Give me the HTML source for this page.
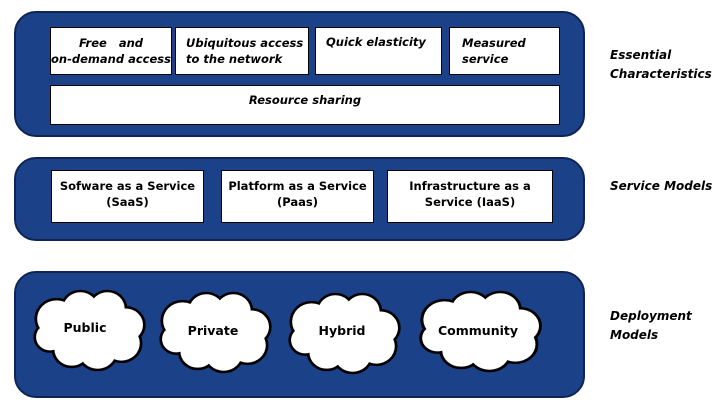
<!DOCTYPE html>
<html><head><style>
body{margin:0;width:722px;height:413px;background:#fff;overflow:hidden;position:relative;font-family:"DejaVu Sans","Liberation Sans",sans-serif}
.band{position:absolute;background:#1b4189;border:2px solid #0f2452;border-radius:22px;box-sizing:border-box}
.box{position:absolute;background:#fff;border:1px solid #000;box-sizing:border-box;font-size:12px;font-weight:bold;line-height:16px}
.i{font-style:italic}
.lab{position:absolute;font-size:12px;font-weight:bold;font-style:italic;line-height:19px;color:#000}
</style></head><body>
<div class="band" style="left:14px;top:11px;width:571px;height:126px"></div>
<div class="band" style="left:14px;top:157px;width:571px;height:84px"></div>
<div class="band" style="left:14px;top:271px;width:571px;height:127px"></div>

<div class="box i" style="left:50px;top:27px;width:122px;height:48px;text-align:center;padding-top:7px;font-size:11.5px">Free &nbsp; and<br>on-demand access</div>
<div class="box i" style="left:175px;top:27px;width:134px;height:48px;padding:7px 0 0 10px;font-size:11.5px">Ubiquitous access<br>to the network</div>
<div class="box i" style="left:315px;top:27px;width:127px;height:48px;padding:6px 0 0 10px;font-size:11.5px">Quick elasticity</div>
<div class="box i" style="left:449px;top:27px;width:111px;height:48px;padding:7px 0 0 12px;font-size:11.5px">Measured<br>service</div>
<div class="box i" style="left:50px;top:85px;width:510px;height:40px;text-align:center;padding-top:6px;font-size:11.5px">Resource sharing</div>

<div class="box" style="left:51px;top:170px;width:153px;height:53px;text-align:center;padding-top:7px;font-size:11.5px">Sofware as a Service<br>(SaaS)</div>
<div class="box" style="left:221px;top:170px;width:153px;height:53px;text-align:center;padding-top:7px;font-size:11.5px">Platform as a Service<br>(Paas)</div>
<div class="box" style="left:387px;top:170px;width:166px;height:53px;text-align:center;padding-top:7px;font-size:11.5px">Infrastructure as a<br>Service (IaaS)</div>

<svg style="position:absolute;left:0;top:0" width="722" height="413">
<defs>
<g id="c">
<circle cx="-30" cy="-12" r="18"/><circle cx="-8" cy="-22" r="16"/><circle cx="17" cy="-22" r="16"/><circle cx="34" cy="-6" r="16"/>
<circle cx="30" cy="12" r="17"/><circle cx="8" cy="20" r="17"/><circle cx="-16" cy="18" r="16"/><circle cx="-36" cy="6" r="13"/><circle cx="0" cy="0" r="28"/>
</g>
<g id="cs"><use href="#c" transform="scale(1.08,1.02)"/></g>
</defs>
<g stroke="#000" stroke-width="5" fill="#000">
<use href="#cs" x="89" y="331"/><use href="#cs" x="215" y="333"/><use href="#cs" x="344" y="334"/><use href="#c" transform="translate(480,332) scale(1.18,1.02)"/>
</g>
<g fill="#fff">
<use href="#cs" x="89" y="331"/><use href="#cs" x="215" y="333"/><use href="#cs" x="344" y="334"/><use href="#c" transform="translate(480,332) scale(1.18,1.02)"/>
</g>
<g font-family="DejaVu Sans, Liberation Sans, sans-serif" font-weight="bold" font-size="12.5" text-anchor="middle" fill="#000">
<text x="85" y="332">Public</text><text x="213" y="335">Private</text><text x="342" y="335">Hybrid</text><text x="478" y="335">Community</text>
</g>
</svg>

<div class="lab" style="left:610px;top:46px">Essential<br>Characteristics</div>
<div class="lab" style="left:610px;top:177px">Service Models</div>
<div class="lab" style="left:610px;top:307px">Deployment<br>Models</div>
</body></html>
